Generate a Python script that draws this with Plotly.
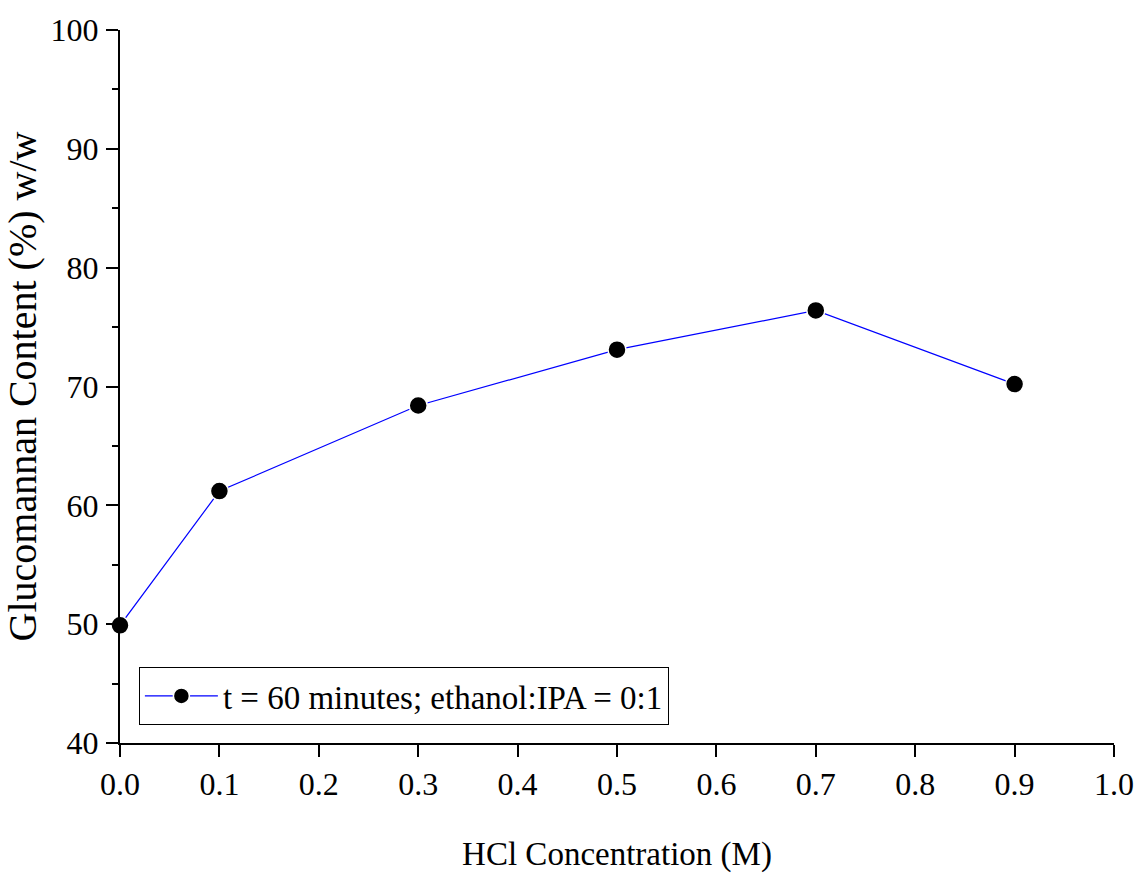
import plotly.graph_objects as go

hcl_conc = [0.0, 0.1, 0.3, 0.5, 0.7, 0.9]
glucomannan = [49.9, 61.2, 68.4, 73.1, 76.4, 70.2]
series_name = "t = 60 minutes; ethanol:IPA = 0:1"
x_ticks = [0.0, 0.1, 0.2, 0.3, 0.4, 0.5, 0.6, 0.7, 0.8, 0.9, 1.0]
x_tick_labels = ["0.0", "0.1", "0.2", "0.3", "0.4", "0.5", "0.6", "0.7", "0.8", "0.9", "1.0"]
y_ticks = [40, 50, 60, 70, 80, 90, 100]

FONT = "Liberation Serif, Times New Roman, serif"

fig = go.Figure()
fig.add_trace(go.Scatter(
    x=hcl_conc, y=glucomannan, mode="lines+markers", name=series_name,
    line=dict(color="#0000ff", width=1.2),
    marker=dict(symbol="circle", size=18, color="black", line=dict(color="white", width=1.5)),
    cliponaxis=False,
))

fig.update_layout(
    width=1137, height=874, autosize=False,
    margin=dict(l=120, r=23, t=30, b=131, autoexpand=False),
    paper_bgcolor="white", plot_bgcolor="white",
    font=dict(family=FONT, color="black", size=32),
    showlegend=True,
    legend=dict(
        x=0.019, y=0.1066, xanchor="left", yanchor="top",
        bgcolor="white", bordercolor="black", borderwidth=1,
        font=dict(family=FONT, size=33, color="black"),
        itemwidth=73,
    ),
    xaxis=dict(
        range=[0, 1.0], tickvals=x_ticks, ticktext=x_tick_labels,
        automargin=False,
        showline=True, linecolor="black", linewidth=2, mirror=False,
        ticks="outside", ticklen=12, tickwidth=2, tickcolor="black",
        showgrid=False, zeroline=False,
        tickfont=dict(family=FONT, size=32),
        title=dict(text="HCl Concentration (M)", font=dict(family=FONT, size=33), standoff=40),
    ),
    yaxis=dict(
        range=[40, 100], tickvals=y_ticks,
        automargin=False,
        showline=True, linecolor="black", linewidth=2, mirror=False,
        ticks="outside", ticklen=12, tickwidth=2, tickcolor="black",
        minor=dict(ticks="outside", ticklen=6, tickwidth=2, tickcolor="black", dtick=5, showgrid=False),
        showgrid=False, zeroline=False,
        tickfont=dict(family=FONT, size=32),
        ticklabelstandoff=1,
        title=dict(text="Glucomannan Content (%) w/w", font=dict(family=FONT, size=40), standoff=7),
    ),
)

fig.write_html(
    "out.html",
    config={"displayModeBar": False},
    post_script="document.body.style.margin='0';document.body.style.overflow='hidden';",
)
